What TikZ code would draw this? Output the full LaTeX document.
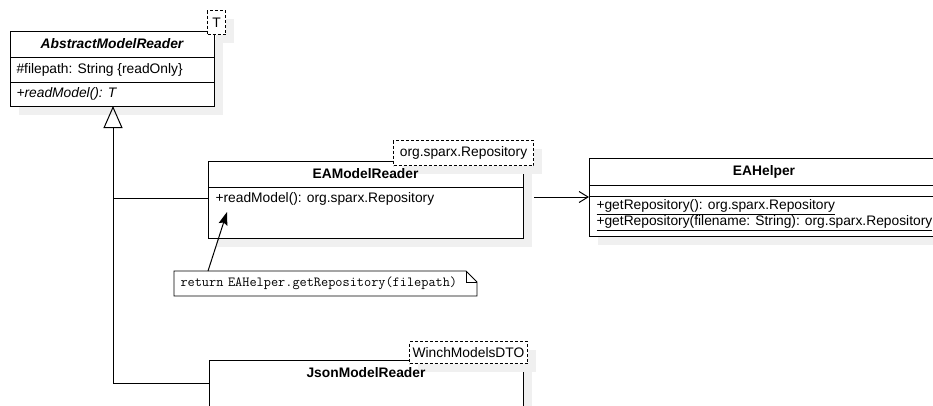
\documentclass[tikz,border=0pt]{standalone}
\usepackage{fontspec}
\setmainfont{Liberation Sans}
\usetikzlibrary{arrows.meta,shadows,calc}

\newcommand\umlsize{\fontsize{13.8}{16}\selectfont}

\begin{document}
\begin{tikzpicture}[x=1pt,y=-1pt,line width=1pt,
  shadowed/.style={drop shadow={shadow xshift=8pt,shadow yshift=-8pt,fill=black!6,opacity=1}},
  umlbox/.style={draw,fill=white,anchor=north west,inner sep=0pt,shadowed},
  tplbox/.style={draw,dashed,dash pattern=on 3pt off 2pt,fill=white,anchor=north west,inner sep=0pt,shadowed,
                 font=\umlsize},
  title/.style={inner sep=0pt,font=\umlsize\bfseries},
  member/.style={anchor=west,inner sep=0pt,font=\umlsize},
  note/.style={anchor=north west,inner xsep=6pt,inner ysep=0pt,text width=290pt,align=left,
               minimum height=24pt,font=\fontsize{13.9}{15}\selectfont\ttfamily},
  inherit/.style={-{Triangle[open,length=22pt,width=19pt]}},
  assoc/.style={-{Straight Barb[length=9pt,width=11pt]}},
  anchorline/.style={-{Stealth[length=13pt,width=9pt,inset=2pt]}}
]
\useasboundingbox (0,0) rectangle (933,405);

% AbstractModelReader<T>
\node[umlbox,minimum width=204pt,minimum height=75pt] (amr) at (10,31) {};
\node[tplbox,minimum width=18pt,minimum height=24pt] (amrT) at (207,10) {T};
\draw ($(amr.north west)+(0,26)$) -- ($(amr.north east)+(0,26)$);
\draw ($(amr.north west)+(0,51)$) -- ($(amr.north east)+(0,51)$);
\node[title,font=\umlsize\bfseries\itshape] (amrName) at (112,44) {AbstractModelReader};
\node[member] (amrAttr) at (16,69.5) {\#filepath: String \{readOnly\}};
\node[member,font=\umlsize\itshape] (amrOp) at (16,94) {+readModel(): T};

% EAModelReader
\node[umlbox,minimum width=315pt,minimum height=77pt] (ea) at (208,161) {};
\node[tplbox,minimum width=140pt,minimum height=25pt] (eaT) at (393,140) {org.sparx.Repository};
\draw ($(ea.north west)+(0,26)$) -- ($(ea.north east)+(0,26)$);
\node[title] (eaName) at (365.5,174) {EAModelReader};
\node[member] (eaOp) at (215,199) {+readModel(): org.sparx.Repository};

% EAHelper
\node[umlbox,minimum width=350pt,minimum height=78pt] (helper) at (589,158) {};
\draw ($(helper.north west)+(0,27)$) -- ($(helper.north east)+(0,27)$);
\draw ($(helper.north west)+(0,38)$) -- ($(helper.north east)+(0,38)$);
\node[title] (helperName) at (764,171.5) {EAHelper};
\node[member] (helperOp1) at (596,207) {\underline{+getRepository(): org.sparx.Repository}};
\node[member] (helperOp2) at (596,223) {\underline{+getRepository(filename: String): org.sparx.Repository}};

% JsonModelReader<WinchModelsDTO>
\node[umlbox,minimum width=314pt,minimum height=70pt] (json) at (209,360) {};
\node[tplbox,minimum width=118pt,minimum height=22pt] (jsonT) at (409,341) {WinchModelsDTO};
\node[title] (jsonName) at (366,373) {JsonModelReader};

% note on readModel()
\node[note] (note) at (174,271) {return EAHelper.getRepository(filepath)};
\draw[line width=0.9pt] (note.north west) -- ($(note.north east)+(-11,0)$) -- ($(note.north east)+(0,11)$)
  -- (note.south east) -- (note.south west) -- cycle;
\draw[line width=0.9pt] ($(note.north east)+(-11,0)$) -- ($(note.north east)+(-11,11)$) -- ($(note.north east)+(0,11)$);

% generalisation
\coordinate (eaJoin) at (ea.west |- 0,198);
\coordinate (jsonJoin) at (json.west |- 0,383);
\coordinate (trunk) at (113,106);
\draw[inherit] (jsonJoin) -| (trunk);
\draw (eaJoin) -- (eaJoin -| trunk);

% dependency on EAHelper
\coordinate (assocStart) at (534,197);
\draw[assoc] (assocStart) -- (assocStart -| helper.west);

% note anchor
\coordinate (noteFoot) at (208,271);
\coordinate (opTip) at (227,212);
\draw[anchorline] (noteFoot) -- (opTip);
\end{tikzpicture}
\end{document}
